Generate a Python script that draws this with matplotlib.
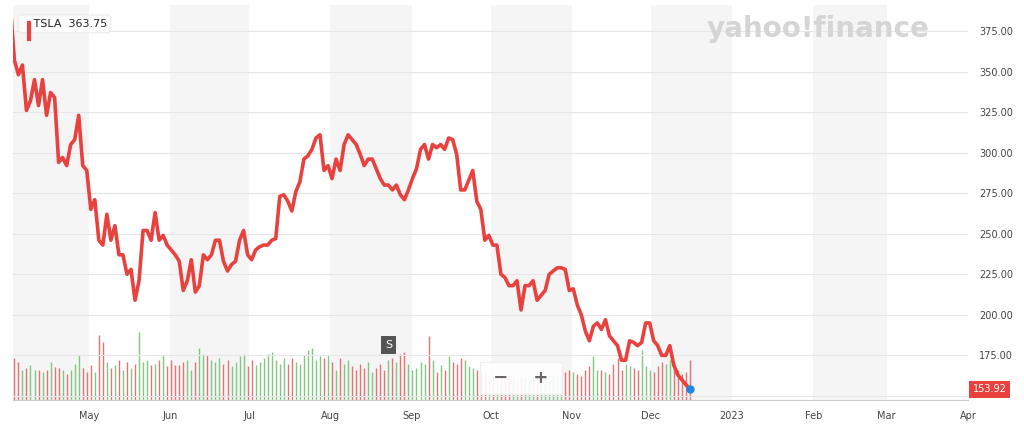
import matplotlib
matplotlib.use("Agg")
import matplotlib.pyplot as plt
import pandas as pd
import numpy as np

ticker = "TSLA"
legend_value = "363.75"
last_label = "153.92"
prices = [391,357,348,354,326,332,345,329,345,323,337,334,294,297,292,305,308,323,292,289,
          265,271,246,243,262,246,255,237,237,225,228,209,221,252,252,246,263,246,249,243,
          240,237,233,215,221,234,214,218,237,234,237,246,246,233,227,231,233,246,252,237,
          234,240,242,243,243,246,247,273,274,270,264,276,282,296,298,302,309,311,289,292,
          284,296,289,305,311,308,305,299,292,296,296,290,284,280,280,277,280,274,271,277,
          284,290,302,305,296,305,303,305,302,309,308,299,277,277,283,289,270,265,246,249,
          243,243,225,223,218,218,221,203,218,218,221,209,212,215,225,227,229,229,228,215,
          216,206,200,190,184,193,195,191,197,187,184,181,172,172,184,183,181,183,195,195,
          184,181,175,175,181,169,163,160,157,154]
volumes = [40,42,38,30,32,35,30,30,28,30,38,33,32,30,26,30,36,45,32,28,
           35,28,65,58,38,32,35,40,30,38,32,36,68,38,40,35,36,40,45,34,
           40,35,35,38,40,30,38,52,46,45,40,38,42,36,40,34,38,44,46,34,
           40,35,38,42,46,48,40,36,42,36,42,38,36,45,50,52,40,44,42,45,
           38,30,42,36,40,34,30,36,32,38,28,32,36,30,40,42,38,46,48,36,
           30,32,38,36,64,40,28,35,30,44,38,36,42,40,34,32,30,28,30,24,
           24,26,22,20,22,24,20,22,22,24,26,28,24,24,26,26,24,24,28,30,
           28,26,24,30,34,44,30,30,28,26,36,42,30,36,34,32,30,50,34,30,
           28,34,38,36,40,34,30,26,28,40]
month_labels = ["May","Jun","Jul","Aug","Sep","Oct","Nov","Dec","2023","Feb","Mar","Apr"]
yticks = [150,175,200,225,250,275,300,325,350,375]

n = min(len(prices), len(volumes))
prices = prices[:n]; volumes = volumes[:n]
dates = pd.date_range("2022-04-01", "2022-12-16", periods=n)

fig = plt.figure(figsize=(10.24, 4.33), dpi=100)
ax = fig.add_axes([13/1024, 33/433, 955/1024, 395/433])
axv = ax.twinx()
axv.set_zorder(1); ax.set_zorder(2); ax.patch.set_visible(False)

x0, x1 = pd.Timestamp("2022-04-02"), pd.Timestamp("2023-04-01")
ax.set_xlim(x0, x1); axv.set_xlim(x0, x1)
ax.set_ylim(147.5, 391)
axv.set_ylim(0, 395)

months = pd.date_range("2022-04-01", "2023-04-01", freq="MS")
for i in range(0, len(months) - 1, 2):
    axv.axvspan(months[i], months[i + 1], color="#f5f5f5", zorder=0, lw=0)

cols = ["#e57373" if i > 0 and prices[i] < prices[i-1] else "#81c784" for i in range(n)]
axv.vlines(dates, 0, volumes, colors=cols, lw=1.0, zorder=1)
axv.set_yticks([])

for t in yticks:
    ax.axhline(t, color="#e6e6e6", lw=0.8, zorder=0)
ax.plot(dates, prices, color="#e8413e", lw=2.6, zorder=3)
ax.plot(dates[-1], prices[-1], "o", color="#1e88e5", ms=5, zorder=4)

ax.yaxis.tick_right()
ax.set_yticks(yticks)
ax.set_yticklabels([""] + [f"{t:.2f}" for t in yticks[1:]], fontsize=7, color="#444")
ax.tick_params(axis="y", length=0, pad=8)
ax.set_xticks(months[1:])
ax.set_xticklabels(month_labels, fontsize=7, color="#444")
ax.tick_params(axis="x", length=0, pad=8)
for s in ["top", "left", "right"]:
    ax.spines[s].set_visible(False)
    axv.spines[s].set_visible(False)
ax.spines["bottom"].set_color("#cccccc")
axv.spines["bottom"].set_visible(False)

ax.text(0.01, 0.965, "   " + ticker + "  " + legend_value, transform=ax.transAxes, fontsize=8,
        va="top", ha="left", color="#222", zorder=5,
        bbox=dict(boxstyle="round,pad=0.35", fc="white", ec="#eeeeee"))
ax.plot([0.0165, 0.0165], [0.915, 0.955], transform=ax.transAxes, color="#e8413e", lw=3, zorder=6)
ax.text(0.96, 0.94, "yahoo!finance", transform=ax.transAxes, fontsize=20, fontweight="bold",
        color="#d5d5d5", ha="right", va="center", zorder=1)
ax.text(1.005, prices[-1], last_label, transform=ax.get_yaxis_transform(), fontsize=7,
        color="white", va="center", ha="left",
        bbox=dict(boxstyle="square,pad=0.35", fc="#e8413e", ec="none"), zorder=6)
ax.text(0.393, 0.14, "S", transform=ax.transAxes, fontsize=8, color="white", ha="center", va="center",
        bbox=dict(boxstyle="square,pad=0.35", fc="#555555", ec="none"), zorder=6)
ax.text(0.532, 0.055, " −    + ", transform=ax.transAxes, fontsize=13, color="#666", ha="center",
        va="center", fontweight="bold",
        bbox=dict(boxstyle="square,pad=0.4", fc="white", ec="#eeeeee", alpha=0.9), zorder=6)

fig.savefig("out.png", dpi=100)
